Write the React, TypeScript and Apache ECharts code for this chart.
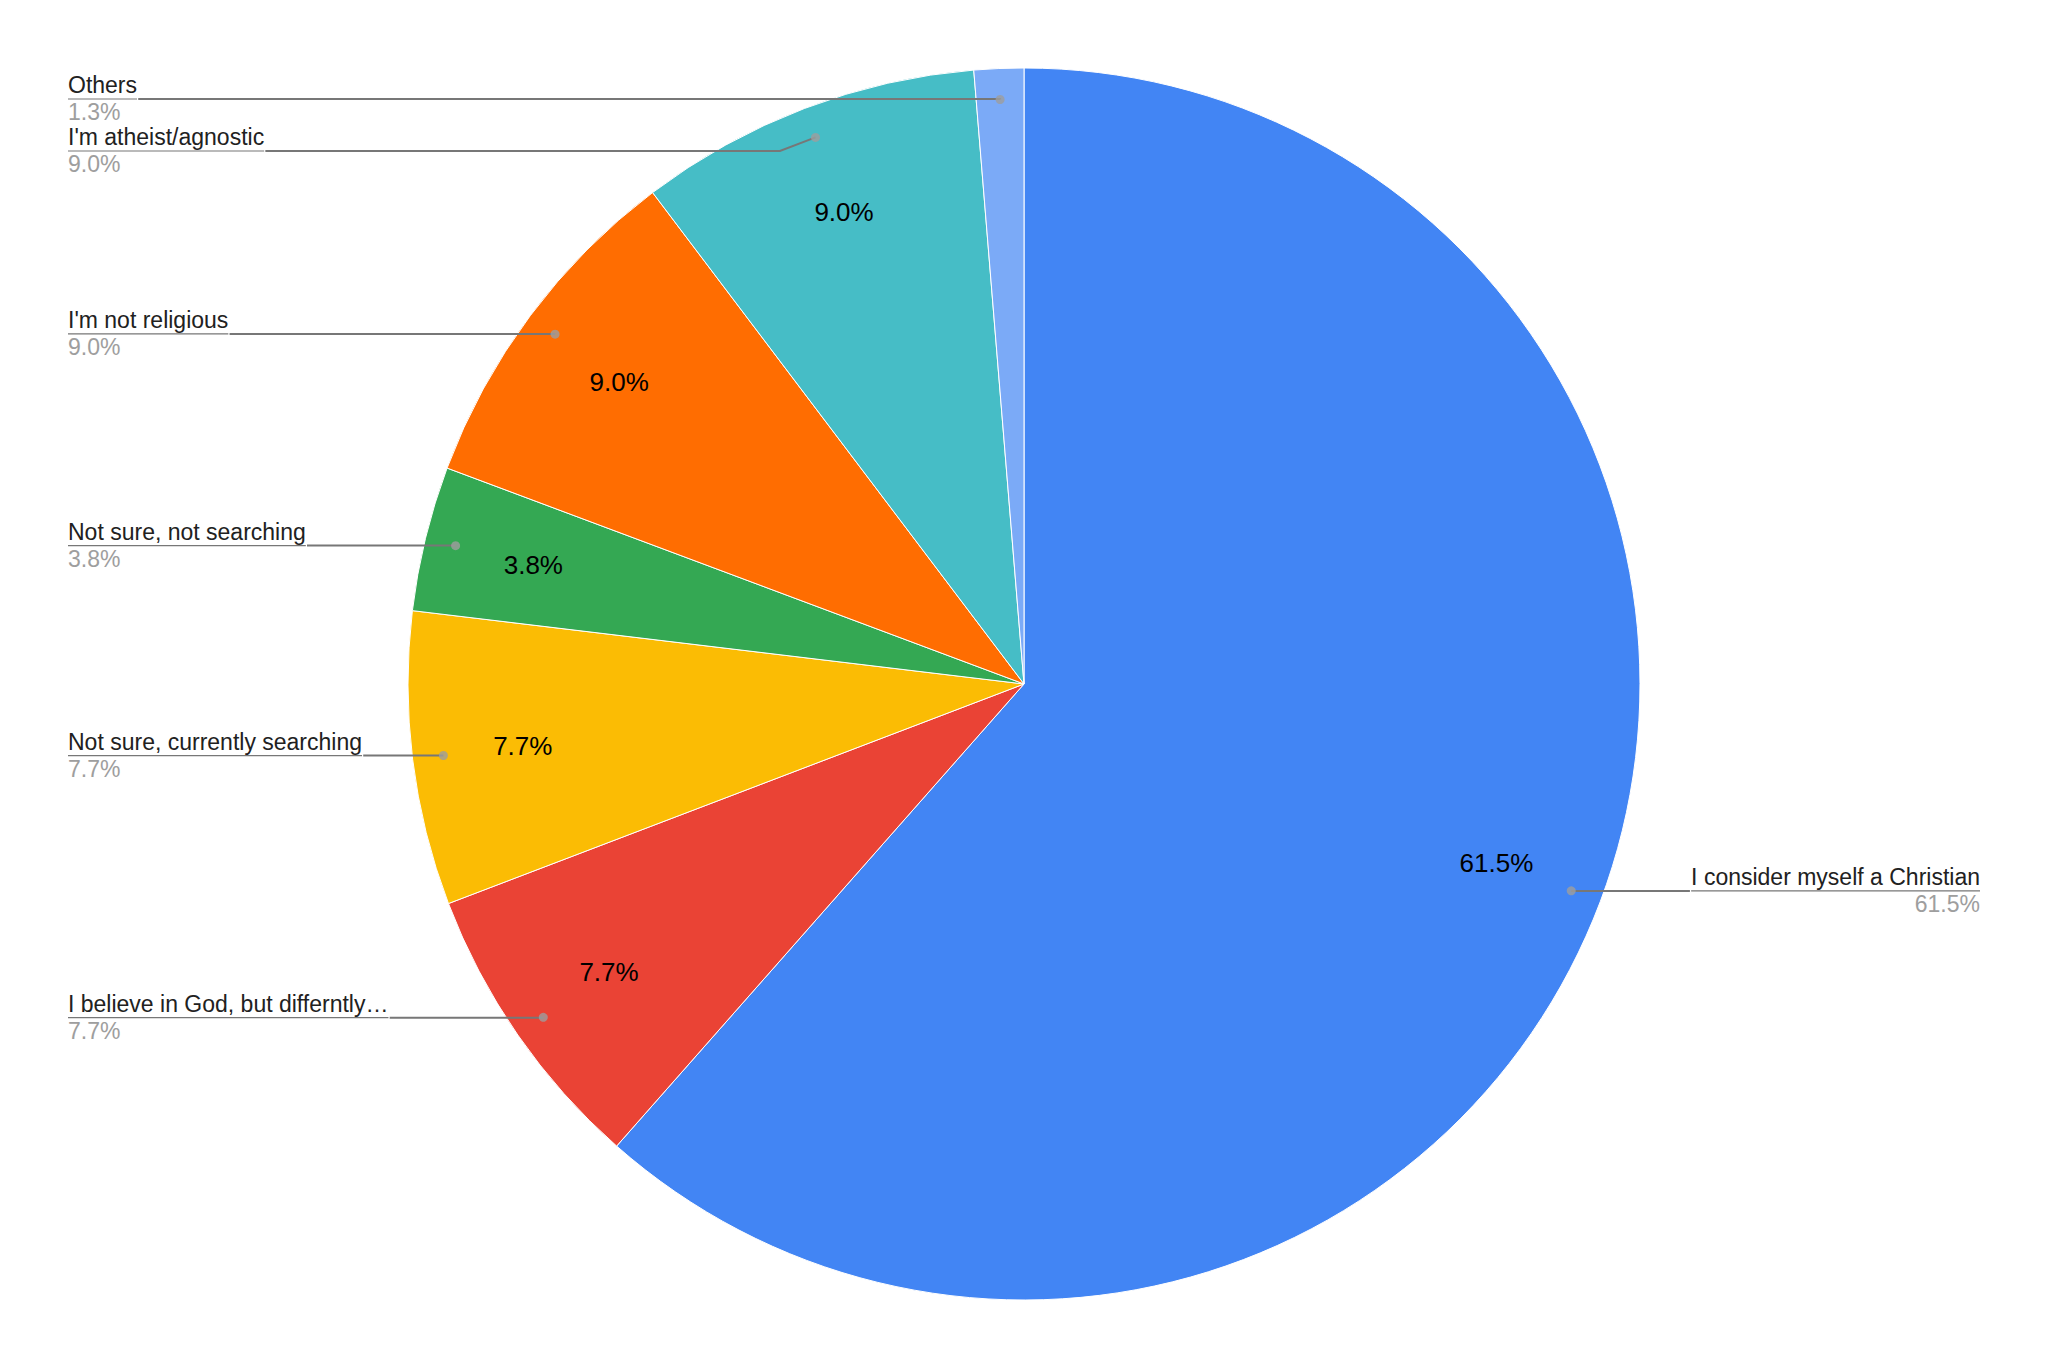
import React, { useEffect, useRef } from "react";
import * as echarts from "echarts";

const categories = [
  "I consider myself a Christian",
  "I believe in God, but differntly…",
  "Not sure, currently searching",
  "Not sure, not searching",
  "I'm not religious",
  "I'm atheist/agnostic",
  "Others",
];
const shares = [61.5, 7.7, 7.7, 3.8, 9.0, 9.0, 1.3];
const sliceColors = ["#4285F4", "#EA4335", "#FBBC04", "#34A853", "#FF6D01", "#46BDC6", "#7BAAF7"];

const FONT = 'Arial, "Liberation Sans", sans-serif';
const CENTER = [1024, 684];
const R = 616;
const DOT_R = 585;

export default function App() {
  const ref = useRef<HTMLDivElement>(null);
  useEffect(() => {
    if (!ref.current) return;
    const chart = echarts.init(ref.current, undefined, { renderer: "svg" });
    const total = shares.reduce((a, b) => a + b, 0);
    const mids: number[] = [];
    let cum = 0;
    shares.forEach((v) => {
      mids.push(cum + v / 2);
      cum += v;
    });
    const fmtPct = (p: any) => p.percent.toFixed(1) + "%";

    chart.setOption({
      animation: false,
      backgroundColor: "#ffffff",
      textStyle: { fontFamily: FONT },
      polar: { center: CENTER, radius: R },
      angleAxis: {
        type: "value",
        min: 0,
        max: total,
        startAngle: 90,
        clockwise: true,
        show: false,
      },
      radiusAxis: { type: "value", min: 0, max: R, show: false },
      series: [
        {
          type: "pie",
          z: 1,
          center: CENTER,
          radius: R,
          startAngle: 90,
          clockwise: true,
          silent: true,
          label: { show: false },
          labelLine: { show: false },
          itemStyle: { borderColor: "#ffffff", borderWidth: 1 },
          data: categories.map((name, i) => ({
            name,
            value: shares[i],
            itemStyle: { color: sliceColors[i] },
          })),
        },
        {
          type: "pie",
          z: 3,
          center: CENTER,
          radius: [388, R],
          startAngle: 90,
          clockwise: true,
          silent: true,
          avoidLabelOverlap: false,
          itemStyle: { color: "transparent" },
          label: {
            show: true,
            position: "inside",
            formatter: fmtPct,
            fontSize: 26,
            color: "#000000",
            fontFamily: FONT,
          },
          labelLine: { show: false },
          data: categories.map((name, i) => ({
            name,
            value: shares[i],
            label: { show: shares[i] >= 3 },
          })),
        },
        {
          type: "pie",
          z: 10,
          center: CENTER,
          radius: DOT_R,
          startAngle: 90,
          clockwise: true,
          silent: true,
          itemStyle: { color: "transparent" },
          label: {
            show: true,
            position: "outside",
            alignTo: "edge",
            edgeDistance: 68,
            distanceToLabelLine: 0,
            fontFamily: FONT,
            formatter: (p: any) => `{name|${p.name}}\n{hr|}\n{pct|${fmtPct(p)}}`,
            rich: {
              name: { fontSize: 23, color: "#212121", lineHeight: 27, fontFamily: FONT },
              hr: { width: "100%", height: 0, borderColor: "#777777", borderWidth: 1.2 },
              pct: { fontSize: 23, color: "#9e9e9e", lineHeight: 27, fontFamily: FONT },
            },
          },
          labelLine: {
            show: true,
            length: 0.5,
            length2: 0,
            lineStyle: { color: "#777777", width: 2 },
          },
          data: categories.map((name, i) => ({ name, value: shares[i] })),
        },
        {
          type: "scatter",
          coordinateSystem: "polar",
          silent: true,
          symbol: "circle",
          symbolSize: 9,
          itemStyle: { color: "#9e9e9e" },
          data: mids.map((m) => [DOT_R, m]),
          z: 12,
        },
      ],
    });
    return () => chart.dispose();
  }, []);
  return (
    <div
      ref={ref}
      style={{ position: "absolute", left: 0, top: 0, width: 2048, height: 1367, background: "#fff" }}
    />
  );
}
